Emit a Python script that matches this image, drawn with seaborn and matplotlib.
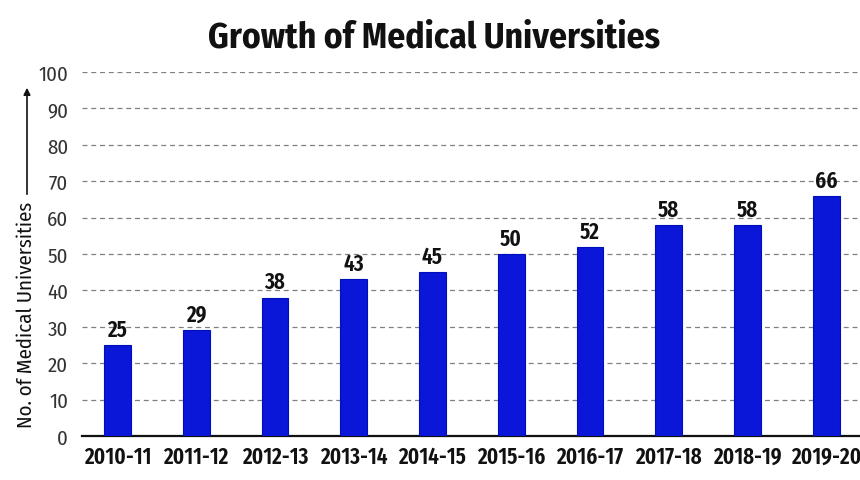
import matplotlib
matplotlib.use("Agg")
import matplotlib.pyplot as plt
import seaborn as sns
import pandas as pd

years = ["2010-11", "2011-12", "2012-13", "2013-14", "2014-15",
         "2015-16", "2016-17", "2017-18", "2018-19", "2019-20"]
counts = [25, 29, 38, 43, 45, 50, 52, 58, 58, 66]
yticks = [0, 10, 20, 30, 40, 50, 60, 70, 80, 90, 100]

sns.set_theme(style="white")
plt.rcParams['font.family'] = ['Fira Sans Condensed', 'DejaVu Sans']
XC = ['Fira Sans Extra Condensed', 'Fira Sans Condensed', 'DejaVu Sans']

df = pd.DataFrame({"year": years, "count": counts})

W, H = 860, 481
fig = plt.figure(figsize=(W / 100, H / 100), dpi=100)
ax = fig.add_axes([82 / W, 1 - 437 / H, (W - 82) / W, (437 - 73) / H])

sns.barplot(data=df, x="year", y="count", ax=ax, color="#0a16d8",
            width=0.34, saturation=1, edgecolor="#0010b8", linewidth=0.8, zorder=3)

ax.set_ylim(0, 100)
ax.set_xlim(-0.45, 9.43)
ax.set_yticks(yticks)
ax.yaxis.grid(True, linestyle=(0, (4, 3)), color="#808080", linewidth=0.9, zorder=0)
ax.xaxis.grid(False)
for s in ["top", "right", "left"]:
    ax.spines[s].set_visible(False)
ax.spines["bottom"].set_color("#111111")
ax.spines["bottom"].set_linewidth(1.6)
ax.set_xlabel("")
ax.set_ylabel("")
ax.tick_params(axis="y", length=0, labelsize=15, colors="#333333", pad=10)
ax.tick_params(axis="x", length=0, labelsize=16.5, colors="#111111", pad=6)
for lab in ax.get_xticklabels():
    lab.set_fontweight(600)
    lab.set_family(XC)

for i, v in enumerate(counts):
    ax.text(i, v + 1.2, str(v), ha="center", va="bottom", fontsize=16.5,
            fontweight=600, color="#111111", family=XC)

fig.text(0.505, 1 - 38 / H, "Growth of Medical Universities", ha="center", va="center",
         fontsize=25.5, fontweight="bold", color="#111111")

fig.text(26 / W, 1 - 315 / H, "No. of Medical Universities", rotation=90,
         ha="center", va="center", fontsize=15, color="#111111")
fig.patches.append(matplotlib.patches.FancyArrowPatch(
    (27 / W, 1 - 198 / H), (27 / W, 1 - 86 / H), transform=fig.transFigure,
    arrowstyle="-|>", mutation_scale=10, color="#111111", linewidth=1.2))

fig.savefig("out.png", dpi=100)
